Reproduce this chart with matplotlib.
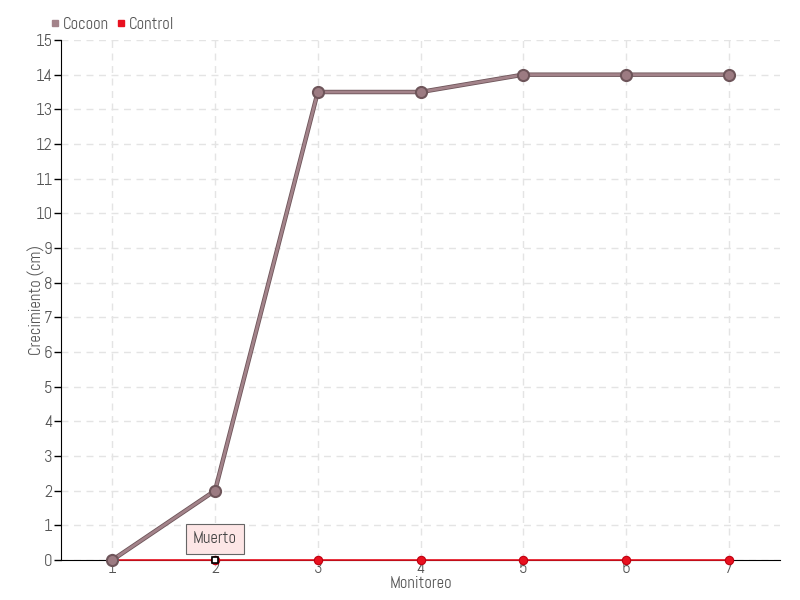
import matplotlib
matplotlib.use("Agg")
import matplotlib.pyplot as plt
from matplotlib.lines import Line2D

plt.rcParams['font.family'] = ['Abel', 'DejaVu Sans']

monitoreo = [1, 2, 3, 4, 5, 6, 7]
cocoon = [0, 2, 13.5, 13.5, 14, 14, 14]
control = [0, 0, 0, 0, 0, 0, 0]
yticks = list(range(0, 16))

c_cocoon = '#a3838a'
c_cocoon_dark = '#6e555a'
c_control = '#e8111f'
txt = '#555555'

fig = plt.figure(figsize=(8, 6), dpi=100)
ax = fig.add_axes([0.07625, 0.0667, 0.89875, 0.8666])

# control line
ax.plot(monitoreo, control, color=c_control, lw=1.2, zorder=3, clip_on=False)
ax.plot(monitoreo, control, 'o', color=c_control, ms=6, mec='#c00010', mew=0.8,
        zorder=4, clip_on=False)

# cocoon line with darker outline
ax.plot(monitoreo, cocoon, color=c_cocoon_dark, lw=3.2, zorder=5, solid_capstyle='round',
        clip_on=False)
ax.plot(monitoreo, cocoon, color=c_cocoon, lw=2, zorder=6, solid_capstyle='round',
        clip_on=False)
ax.plot(monitoreo, cocoon, 'o', color='#9c7b82', ms=8, mec=c_cocoon_dark, mew=1.5,
        zorder=7, clip_on=False)

# highlighted point with tooltip
ax.plot(monitoreo[1], control[1], 's', color='white', ms=5, mec='black', mew=1.2,
        zorder=9, clip_on=False)
ax.annotate('Muerto', xy=(monitoreo[1], control[1]), xytext=(0, 15),
            textcoords='offset points', ha='center', va='center',
            fontsize=12, color='#444444',
            bbox=dict(boxstyle='square,pad=0.4', fc='#fde6e6', ec='#666666', lw=0.8),
            zorder=10)

ax.set_xlim(0.5, 7.5)
ax.set_ylim(0, 15)
ax.set_xticks(monitoreo)
ax.set_yticks(yticks)
ax.tick_params(axis='y', direction='out', length=5, width=1, colors='black',
               labelcolor=txt, labelsize=12, pad=1)
ax.tick_params(axis='x', direction='out', length=4, width=1, colors='#cccccc',
               labelcolor=txt, labelsize=12, pad=-3)
ax.grid(True, color='#e4e4e4', ls=(0, (5, 4)), lw=1)
ax.set_axisbelow(True)
for s in ['top', 'right']:
    ax.spines[s].set_visible(False)
ax.spines['left'].set_color('black')
ax.spines['bottom'].set_color('black')

ax.set_xlabel('Monitoreo', fontsize=12, color=txt, labelpad=-1)
ax.set_ylabel('Crecimiento (cm)', fontsize=12, color=txt)
ax.yaxis.set_label_coords(-0.022, 0.5)

handles = [Line2D([], [], marker='s', ls='', color=c_cocoon, ms=5),
           Line2D([], [], marker='s', ls='', color=c_control, ms=5)]
fig.legend(handles, ['Cocoon', 'Control'], loc='upper left', bbox_to_anchor=(0.045, 0.997),
           ncol=2, frameon=False, fontsize=12, handlelength=0.5, handletextpad=0.2,
           columnspacing=0.5, labelcolor=txt)

fig.savefig('out.png', dpi=100)
